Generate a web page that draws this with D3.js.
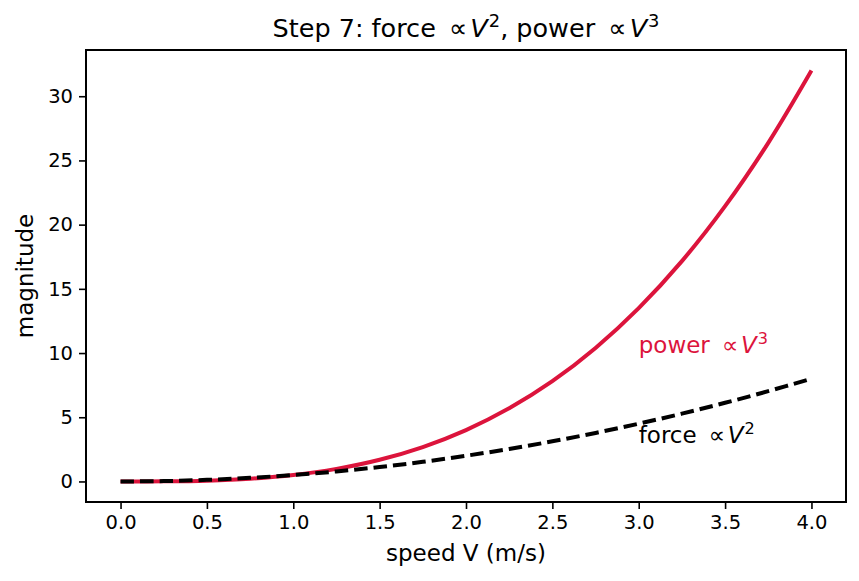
<!DOCTYPE html>
<html><head><meta charset="utf-8">
<script src="https://cdn.jsdelivr.net/npm/d3@7"></script>
<style>body{margin:0;background:#fff} svg text{font-family:"DejaVu Sans",sans-serif;fill:#000}</style>
</head><body><svg id="c" width="859" height="581"></svg>
<script>
const speed = [0,0.25,0.5,0.75,1,1.25,1.5,1.75,2,2.25,2.5,2.75,3,3.25,3.5,3.75,4];
const force = [0,0.03,0.125,0.28,0.5,0.78,1.125,1.53,2,2.53,3.125,3.78,4.5,5.28,6.125,7.03,8];
const power = [0,0.008,0.0625,0.21,0.5,0.98,1.69,2.68,4,5.7,7.81,10.4,13.5,17.16,21.44,26.37,32];
const xTicks = [0,0.5,1,1.5,2,2.5,3,3.5,4];
const yTicks = [0,5,10,15,20,25,30];
const xDomain = [-0.2,4.2];
const yDomain = [-1.6,33.6];

const svg = d3.select("#c");
const L=86,R=846,T=50,B=502;
const x = d3.scaleLinear().domain(xDomain).range([L,R]);
const y = d3.scaleLinear().domain(yDomain).range([B,T]);

const tickFont = 19.5, labelFont = 23, titleFont = 25.5, annFont = 23;

// axes
const xa = svg.append("g").attr("transform",`translate(0,${B})`)
  .call(d3.axisBottom(x).tickValues(xTicks).tickFormat(d3.format(".1f")).tickSize(7).tickPadding(6));
const ya = svg.append("g").attr("transform",`translate(${L},0)`)
  .call(d3.axisLeft(y).tickValues(yTicks).tickFormat(d3.format("d")).tickSize(7).tickPadding(6));
[xa,ya].forEach(g=>{
  g.select(".domain").remove();
  g.selectAll(".tick line").attr("stroke","#000").attr("stroke-width",1.6);
  g.selectAll(".tick text").attr("font-size",tickFont).attr("font-family","DejaVu Sans").attr("fill","#000");
});

// lines
const line = arr => d3.line().x((d,i)=>x(speed[i])).y(d=>y(d)).curve(d3.curveCatmullRom)(arr);
svg.append("path").attr("d",line(power)).attr("fill","none").attr("stroke","#DC143C").attr("stroke-width",4);
svg.append("path").attr("d",line(force)).attr("fill","none").attr("stroke","#000").attr("stroke-width",4)
  .attr("stroke-dasharray","13.5,6");

// frame
svg.append("rect").attr("x",L).attr("y",T).attr("width",R-L).attr("height",B-T)
  .attr("fill","none").attr("stroke","#000").attr("stroke-width",2);

function mathText(g, parts, size){
  parts.forEach(p=>{
    const ts = g.append("tspan").text(p.t);
    if(p.italic) ts.attr("font-style","italic");
    if(p.dx) ts.attr("dx",p.dx);
    if(p.sup){ ts.attr("font-size",size*0.7).attr("dy",-size*0.4); }
    if(p.back){ ts.attr("dy",size*0.4); }
  });
}

// title
const tt = svg.append("text").attr("x",(L+R)/2).attr("y",37).attr("text-anchor","middle").attr("font-size",titleFont);
mathText(tt,[{t:"Step 7: force "},{t:"∝",dx:titleFont*0.2},{t:"V",italic:true,dx:titleFont*0.12},{t:"2",sup:true,dx:1},
  {t:", power ",back:true},{t:"∝",dx:titleFont*0.2},{t:"V",italic:true,dx:titleFont*0.12},{t:"3",sup:true,dx:1}],titleFont);

// annotations
const pa = svg.append("text").attr("x",x(3)).attr("y",y(10)).attr("font-size",annFont).style("fill","#DC143C");
mathText(pa,[{t:"power "},{t:"∝",dx:annFont*0.2},{t:"V",italic:true,dx:annFont*0.12},{t:"3",sup:true,dx:1}],annFont);
pa.selectAll("tspan").style("fill","#DC143C");
const fa = svg.append("text").attr("x",x(3)).attr("y",y(3)).attr("font-size",annFont);
mathText(fa,[{t:"force "},{t:"∝",dx:annFont*0.2},{t:"V",italic:true,dx:annFont*0.12},{t:"2",sup:true,dx:1}],annFont);

// axis labels
svg.append("text").attr("x",(L+R)/2).attr("y",561).attr("text-anchor","middle").attr("font-size",labelFont).text("speed V (m/s)");
svg.append("text").attr("transform",`translate(33,${(T+B)/2}) rotate(-90)`).attr("text-anchor","middle").attr("font-size",labelFont).text("magnitude");
</script></body></html>
